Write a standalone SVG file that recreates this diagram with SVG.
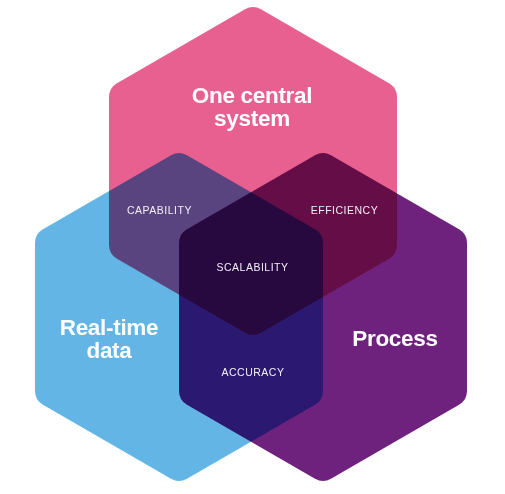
<svg xmlns="http://www.w3.org/2000/svg" xmlns:xlink="http://www.w3.org/1999/xlink" width="505" height="494" viewBox="0 0 505 494">
  <style>
    .hex { mix-blend-mode: multiply; }
    .main { font-family: "Liberation Sans", Arial, sans-serif; font-weight: bold; font-size: 22.5px; fill: #ffffff; text-anchor: middle; letter-spacing: -0.3px; }
    .sub { font-family: "Liberation Sans", Arial, sans-serif; font-size: 10.5px; fill: #f4eef8; text-anchor: middle; letter-spacing: 0.5px; }
  </style>
  <defs>
    <path id="hexShape" d="M7.97,-161.68 L136.03,-87.74 A16,16 0 0 1 144,-73.94 L144,73.94 A16,16 0 0 1 136.03,87.74 L7.97,161.68 A16,16 0 0 1 -7.97,161.68 L-136.03,87.74 A16,16 0 0 1 -144,73.94 L-144,-73.94 A16,16 0 0 1 -136.03,-87.74 L-7.97,-161.68 A16,16 0 0 1 7.97,-161.68 Z"/>
  </defs>
  <rect x="0" y="0" width="505" height="494" fill="#ffffff"/>
  <g style="isolation:isolate">
    <g id="node-central">
      <use xlink:href="#hexShape" href="#hexShape" class="hex" fill="#E8608F" transform="translate(253,171)"/>
    </g>
    <g id="node-realtime">
      <use xlink:href="#hexShape" href="#hexShape" class="hex" fill="#63B5E5" transform="translate(179,317)"/>
    </g>
    <g id="node-process">
      <use xlink:href="#hexShape" href="#hexShape" class="hex" fill="#6E217D" transform="translate(323,317)"/>
    </g>
  </g>
  <g id="labels-main">
    <text class="main" x="252" y="103">One central</text>
    <text class="main" x="252" y="126">system</text>
    <text class="main" x="109" y="335">Real-time</text>
    <text class="main" x="109" y="358">data</text>
    <text class="main" x="395" y="346">Process</text>
  </g>
  <g id="overlap-capability"><text class="sub" x="159.5" y="214">CAPABILITY</text></g>
  <g id="overlap-efficiency"><text class="sub" x="344.5" y="214">EFFICIENCY</text></g>
  <g id="overlap-scalability"><text class="sub" x="252.5" y="271">SCALABILITY</text></g>
  <g id="overlap-accuracy"><text class="sub" x="253" y="376">ACCURACY</text></g>
</svg>
